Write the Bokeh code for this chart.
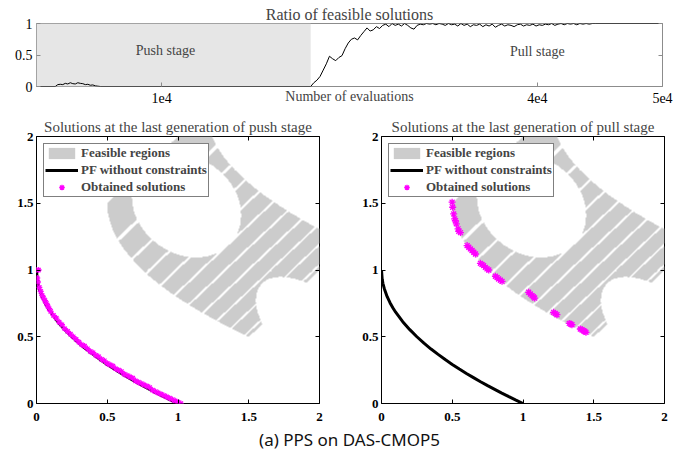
import numpy as np
from bokeh.plotting import figure
from bokeh.layouts import column, row
from bokeh.models import FixedTicker, Legend, Label, BoxAnnotation, LinearAxis
from bokeh.embed import file_html
from bokeh.resources import INLINE
from bokeh.core.properties import value

# ---------------- data ----------------
top_title = "Ratio of feasible solutions"
top_xlabel = "Number of evaluations"
push_label = "Push stage"
pull_label = "Pull stage"
push_end = 21900
eval_lim = [0, 50000]
ratio_lim = [0, 1]
eval_ticks = [10000, 40000, 50000]
eval_tick_labels = ["1e4", "4e4", "5e4"]
ratio_ticks = [0, 0.5, 1]
ratio_tick_labels = ["0", "0.5", "1"]
push_label_pos = [10300, 0.57]
pull_label_pos = [40000, 0.55]

evals = [0, 1500, 1700, 1900, 2100, 2300, 2500, 2700, 2900, 3100,
         3300, 3500, 3700, 3900, 4100, 4300, 4500, 4700, 4900, 5100,
         21900, 22150, 22400, 22650, 22900, 23150, 23400, 23650, 23900, 24150,
         24400, 24650, 24900, 25150, 25400, 25650, 25900, 26150, 26400, 26650,
         26900, 27150, 27400, 27650, 27900, 28150, 28400, 28650, 28900, 29150,
         29400, 29650, 29900, 30150, 30400, 30650, 30900, 31150, 31400, 31650,
         31900, 32150, 32400, 32650, 32900, 33150, 33400, 33650, 33900, 34150,
         34400, 34650, 34900, 35150, 35400, 35650, 35900, 36150, 36400, 36650,
         36900, 37150, 37400, 37650, 37900, 38150, 38400, 38650, 38900, 39150,
         39400, 39650, 39900, 40150, 40400, 40650, 40900, 41150, 41400, 41650,
         41900, 42150, 42400, 42650, 42900, 43150, 43400, 43650, 43900, 44150,
         44400, 44650, 50000]
ratio = [0, 0, 0.03, 0.035, 0.03, 0.05, 0.04, 0.06, 0.045, 0.04,
         0.06, 0.05, 0.045, 0.03, 0.035, 0.02, 0.025, 0.01, 0.005, 0,
         0, 0.06, 0.1, 0.16, 0.26, 0.36, 0.48, 0.44, 0.41, 0.46,
         0.49, 0.6, 0.69, 0.75, 0.77, 0.74, 0.81, 0.87, 0.93, 0.88,
         0.9, 0.95, 0.92, 0.97, 0.99, 0.95, 1.0, 0.97, 0.99, 0.96,
         1.0, 0.97, 0.93, 0.91, 0.97, 0.99, 0.98, 1.0, 0.99, 1.0,
         0.98, 1.0, 0.99, 0.97, 1.0, 0.98, 0.99, 0.96, 1.0, 0.97,
         0.99, 0.95, 0.98, 0.97, 0.99, 0.95, 0.98, 0.96, 0.99, 0.94,
         0.97, 0.99, 0.96, 0.98, 0.97, 0.95, 0.98, 0.99, 0.96, 0.98,
         0.97, 0.99, 0.96, 0.98, 0.97, 0.99, 0.98, 1.0, 0.97, 0.99,
         1.0, 0.98, 1.0, 0.99, 1.0, 0.98, 1.0, 0.99, 1.0, 0.99,
         1.0, 1.0, 1.0]

obj_lim = [0, 2]
obj_ticks = [0, 0.5, 1, 1.5, 2]
obj_tick_labels = ["0", "0.5", "1", "1.5", "2"]
left_title = "Solutions at the last generation of push stage"
right_title = "Solutions at the last generation of pull stage"
legend_labels = ["Feasible regions", "PF without constraints", "Obtained solutions"]
caption = "(a) PPS on DAS-CMOP5"

# PF without constraints
pf_f1 = [0, 0.005, 0.01, 0.02, 0.04, 0.06, 0.08, 0.1, 0.15, 0.2,
         0.25, 0.3, 0.35, 0.4, 0.45, 0.5, 0.55, 0.6, 0.65, 0.7,
         0.75, 0.8, 0.85, 0.9, 0.95, 1.0]
pf_f2 = [1, 0.93, 0.9, 0.86, 0.8, 0.755, 0.717, 0.684, 0.613, 0.553,
         0.5, 0.452, 0.408, 0.368, 0.329, 0.293, 0.258, 0.225, 0.194, 0.163,
         0.134, 0.106, 0.078, 0.051, 0.025, 0]

# obtained solutions, push stage
push_f1 = [0.0, 0.005, 0.01, 0.02, 0.03, 0.04, 0.05, 0.06, 0.07, 0.08,
           0.09, 0.1, 0.12, 0.14, 0.16, 0.18, 0.2, 0.22, 0.24, 0.26,
           0.28, 0.3, 0.32, 0.34, 0.36, 0.38, 0.4, 0.42, 0.44, 0.46,
           0.48, 0.5, 0.52, 0.54, 0.56, 0.58, 0.6, 0.62, 0.64, 0.66,
           0.68, 0.7, 0.72, 0.74, 0.76, 0.78, 0.8, 0.82, 0.84, 0.86,
           0.88, 0.9, 0.92, 0.94, 0.96, 0.98, 1.0, 1.02, 0.015]
push_f2 = [1.0, 0.94, 0.91, 0.87, 0.84, 0.81, 0.79, 0.77, 0.75, 0.73,
           0.71, 0.69, 0.66, 0.64, 0.61, 0.59, 0.56, 0.54, 0.52, 0.50,
           0.48, 0.46, 0.44, 0.43, 0.41, 0.39, 0.38, 0.36, 0.35, 0.33,
           0.32, 0.30, 0.29, 0.28, 0.26, 0.25, 0.24, 0.22, 0.21, 0.20,
           0.19, 0.17, 0.16, 0.15, 0.14, 0.13, 0.12, 0.10, 0.09, 0.08,
           0.07, 0.06, 0.05, 0.04, 0.03, 0.02, 0.01, 0.0, 1.0]

# obtained solutions, pull stage
pull_f1 = [0.499, 0.503, 0.51, 0.517, 0.522, 0.529, 0.541, 0.546, 0.558,
           0.605, 0.617, 0.628, 0.64, 0.652, 0.664,
           0.699, 0.71, 0.722, 0.734, 0.746, 0.758,
           0.805, 0.817, 0.828, 0.84, 0.852,
           1.04, 1.052, 1.064, 1.073, 1.082,
           1.216, 1.228, 1.24,
           1.327, 1.337, 1.346,
           1.405, 1.417, 1.428, 1.437, 1.445]
pull_f2 = [1.508, 1.47, 1.42, 1.383, 1.37, 1.346, 1.308, 1.29, 1.28,
           1.183, 1.17, 1.158, 1.146, 1.133, 1.12,
           1.05, 1.042, 1.033, 1.02, 1.008, 1.0,
           0.953, 0.943, 0.933, 0.924, 0.915,
           0.833, 0.82, 0.808, 0.8, 0.79,
           0.683, 0.674, 0.665,
           0.6, 0.595, 0.59,
           0.558, 0.552, 0.545, 0.539, 0.533]

# feasible-region description (band offset g, stripes in x1, elliptic holes)
band_g = [0.5, 1.2]
stripe_period = 0.1
stripe_gap_center = 0.075
stripe_gap_halfwidth = 0.006
hole_f1 = [1.06, 2.0]
hole_f2 = [1.48, 0.5]
hole_diag = [0.35, 0.28]   # semi-axis along (1, 1)
hole_anti = [0.42, 0.57]   # semi-axis along (-1, 1)

# ---------------- styling ----------------
SERIF = "Liberation Serif"
GRAY = "#cccccc"
SHADE = "#e6e6e6"
MAG = "#ff00ff"
TOPLINE = "#8c8c8c"


def feasible_image(n=800):
    span = obj_lim[1] - obj_lim[0]
    c = obj_lim[0] + (np.arange(n) + 0.5) * (span / n)
    F1, F2 = np.meshgrid(c, c)
    d = 1.0 + F1 - F2
    s = (-1.0 + np.sqrt(np.clip(1.0 + 4.0 * d, 0, None))) / 2.0
    x1 = s ** 2
    g = F1 - x1
    ok = (d >= 0) & (d <= 2) & (g >= band_g[0]) & (g <= band_g[1])
    ph = np.mod(x1, stripe_period)
    ok &= np.abs(ph - stripe_gap_center) > stripe_gap_halfwidth
    for cx, cy, a, b in zip(hole_f1, hole_f2, hole_diag, hole_anti):
        u = ((F1 - cx) + (F2 - cy)) / np.sqrt(2)
        v = ((F2 - cy) - (F1 - cx)) / np.sqrt(2)
        ok &= (u / a) ** 2 + (v / b) ** 2 >= 1
    img = np.zeros((n, n), dtype=np.uint32)
    view = img.view(dtype=np.uint8).reshape((n, n, 4))
    view[ok] = [204, 204, 204, 255]
    return img


FEAS = feasible_image()


def style_axis(ax, ticks, labels, size, bold, color):
    ax.ticker = FixedTicker(ticks=ticks)
    ax.major_label_overrides = {t: l for t, l in zip(ticks, labels)}
    ax.major_tick_in = 4
    ax.major_tick_out = 0
    ax.minor_tick_in = 0
    ax.minor_tick_out = 0
    ax.axis_line_color = None
    ax.major_tick_line_color = color
    ax.major_label_text_font = SERIF
    ax.major_label_text_font_size = size
    ax.major_label_text_font_style = "bold" if bold else "normal"
    ax.major_label_text_color = "black"


def mirror_axis(p, ticks, labels, color, side):
    ax = LinearAxis()
    style_axis(ax, ticks, labels, "1px", False, color)
    ax.major_label_text_color = None     # tick marks only, labels not drawn
    ax.major_label_standoff = 0
    p.add_layout(ax, side)


# ---------------- top figure ----------------
top = figure(width=697, height=108, x_range=tuple(eval_lim), y_range=tuple(ratio_lim),
             output_backend="svg", toolbar_location=None, title=top_title,
             min_border_left=36, min_border_right=35, min_border_top=23, min_border_bottom=22)
top.title.align = "center"
top.title.text_font = SERIF
top.title.text_font_size = "16px"
top.title.text_font_style = "normal"
top.title.standoff = 2
top.grid.visible = False
top.outline_line_color = TOPLINE
top.add_layout(BoxAnnotation(left=eval_lim[0], right=push_end, fill_color=SHADE,
                             fill_alpha=1.0, line_color=None, level="underlay"))
top.line(evals, ratio, line_color="black", line_width=1)
style_axis(top.xaxis[0], eval_ticks, eval_tick_labels, "14px", False, TOPLINE)
top.xaxis[0].major_label_standoff = 6
top.xaxis[0].axis_label = top_xlabel
top.xaxis[0].axis_label_text_font = SERIF
top.xaxis[0].axis_label_text_font_size = "14px"
top.xaxis[0].axis_label_text_font_style = "normal"
top.xaxis[0].axis_label_standoff = -17
style_axis(top.yaxis[0], ratio_ticks, ratio_tick_labels, "14px", False, TOPLINE)
top.yaxis[0].major_label_standoff = 4
mirror_axis(top, ratio_ticks, ratio_tick_labels, TOPLINE, "right")
top.add_layout(Label(x=push_label_pos[0], y=push_label_pos[1], text=push_label,
                     text_font=SERIF, text_font_size="14px", text_align="center",
                     text_baseline="middle"))
top.add_layout(Label(x=pull_label_pos[0], y=pull_label_pos[1], text=pull_label,
                     text_font=SERIF, text_font_size="14px", text_align="center",
                     text_baseline="middle"))


# ---------------- bottom panels ----------------
def make_panel(title, sol_f1, sol_f2, width, bl, br, msize):
    p = figure(width=width, height=317, x_range=tuple(obj_lim), y_range=tuple(obj_lim),
               output_backend="svg", toolbar_location=None, title=title,
               min_border_left=bl, min_border_right=br, min_border_top=28, min_border_bottom=22)
    p.title.align = "center"
    p.title.text_font = SERIF
    p.title.text_font_size = "15px"
    p.title.text_font_style = "normal"
    p.title.standoff = 3
    p.grid.visible = False
    p.outline_line_color = "black"
    p.outline_line_width = 1
    p.image_rgba(image=[FEAS], x=obj_lim[0], y=obj_lim[0],
                 dw=obj_lim[1] - obj_lim[0], dh=obj_lim[1] - obj_lim[0])
    # legend stand-in for the feasible region (NaN coordinates: nothing drawn)
    r_feas = p.quad(left=[np.nan], right=[np.nan], top=[np.nan], bottom=[np.nan],
                    fill_color=GRAY, line_color=None)
    r_pf = p.line(pf_f1, pf_f2, line_color="black", line_width=3)
    r_sol = p.scatter(sol_f1, sol_f2, marker="asterisk", size=msize, line_color=MAG,
                      line_width=1.3)
    style_axis(p.xaxis[0], obj_ticks, obj_tick_labels, "13px", True, "black")
    p.xaxis[0].major_label_standoff = 9
    style_axis(p.yaxis[0], obj_ticks, obj_tick_labels, "13px", True, "black")
    p.yaxis[0].major_label_standoff = 3
    mirror_axis(p, obj_ticks, obj_tick_labels, "black", "above")
    mirror_axis(p, obj_ticks, obj_tick_labels, "black", "right")
    leg = Legend(items=[(legend_labels[0], [r_feas]), (legend_labels[1], [r_pf]),
                        (legend_labels[2], [r_sol])],
                 location="top_left", margin=7, padding=1, spacing=1,
                 glyph_width=33, glyph_height=14, label_height=14, label_standoff=3,
                 label_text_font=SERIF, label_text_font_size="13px",
                 label_text_font_style="bold", border_line_color="black",
                 border_line_width=1.5, background_fill_alpha=1.0)
    p.add_layout(leg)
    return p


left = make_panel(left_title, push_f1, push_f2, 348, 36, 29, 6)
right = make_panel(right_title, pull_f1, pull_f2, 349, 33, 33, 7)

# ---------------- caption ----------------
cap = figure(width=697, height=34, x_range=(0, 1), y_range=(0, 1),
             output_backend="svg", toolbar_location=None,
             x_axis_location=None, y_axis_location=None, min_border=0)
cap.outline_line_color = None
cap.grid.visible = False
cap.text(x=[0.5], y=[0.6], text=[caption], text_align="center", text_baseline="middle",
         text_font=value("Noto Sans"), text_font_size="17px", text_color="#111111")

layout = column(top, row(left, right), cap)
open("out.html", "w").write(file_html(layout, INLINE))
